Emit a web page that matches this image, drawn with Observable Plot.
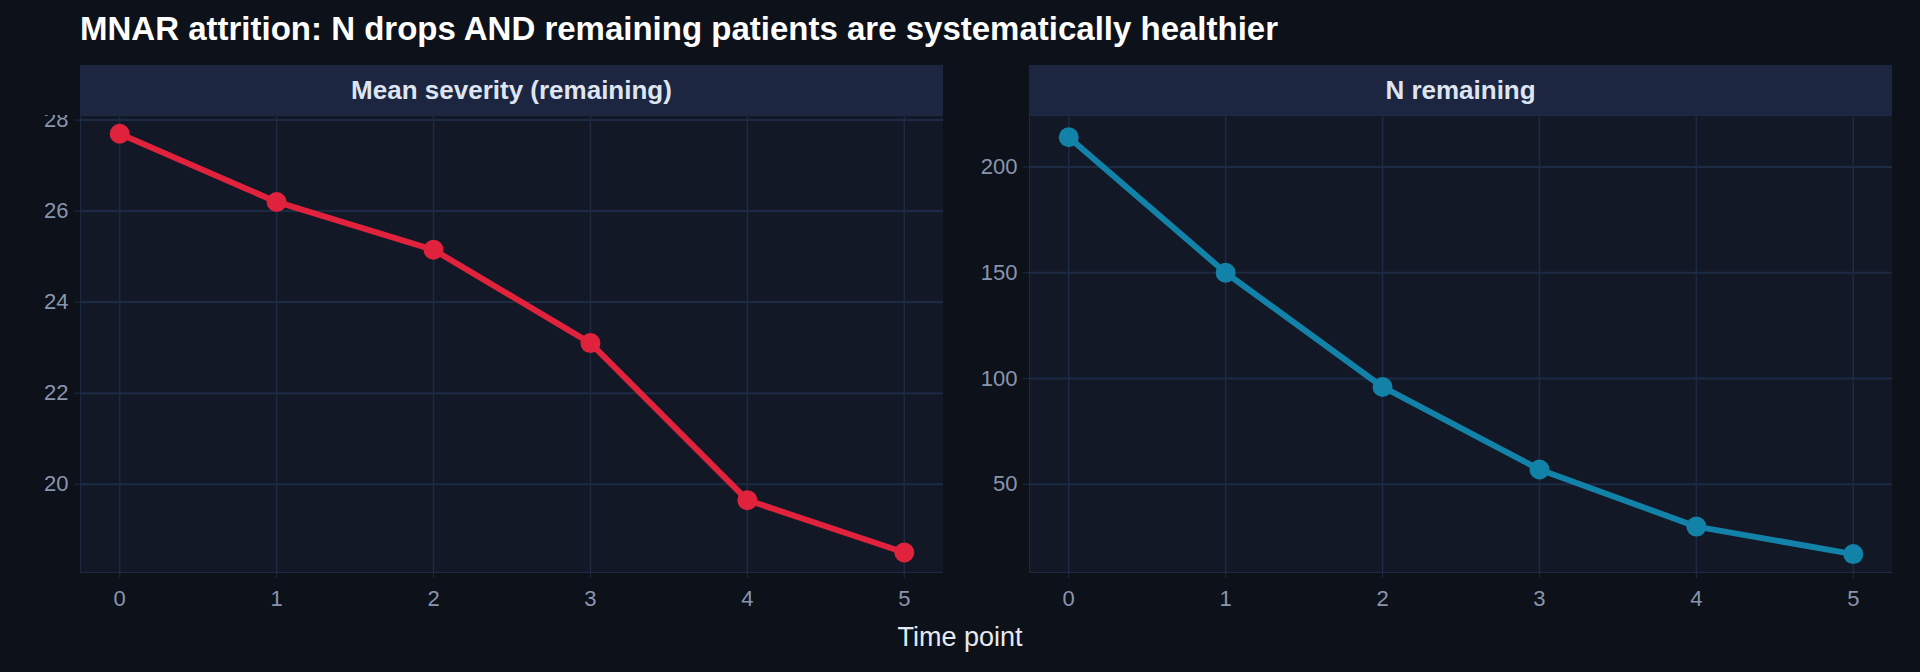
<!DOCTYPE html>
<html><head><meta charset="utf-8">
<script src="https://cdn.jsdelivr.net/npm/d3@7"></script>
<script src="https://cdn.jsdelivr.net/npm/@observablehq/plot@0.6"></script>
<style>
body{margin:0;background:#0d111a;width:1920px;height:672px;overflow:hidden;font-family:"Liberation Sans",Arial,sans-serif;}
#wrap{position:relative;width:1920px;height:672px;}
.title{position:absolute;left:80px;top:10px;color:#fff;font-weight:bold;font-size:33px;}
.strip{position:absolute;top:65px;height:50px;width:863px;background:#1c2640;color:#dfe5f0;font-weight:bold;font-size:26px;display:flex;align-items:center;justify-content:center;}
.xl{position:absolute;top:622px;width:1920px;left:0;text-align:center;color:#e6e9f0;font-size:27px;}
.p{position:absolute;top:115px;}
</style></head><body>
<div id="wrap">
<div class="title">MNAR attrition: N drops AND remaining patients are systematically healthier</div>
<div class="strip" style="left:80px">Mean severity (remaining)</div>
<div class="strip" style="left:1029px">N remaining</div>
<div class="p" id="p1" style="left:10px"></div>
<div class="p" id="p2" style="left:959px"></div>
<div class="xl">Time point</div>
</div>
<script>
const timePoints = [0, 1, 2, 3, 4, 5];
const meanSeverity = [27.7, 26.2, 25.15, 23.1, 19.65, 18.5];
const nRemaining = [214, 150, 96, 57, 30, 17];
const sevTicks = [20, 22, 24, 26, 28];
const nTicks = [50, 100, 150, 200];

function panel(vals, color, ydom, yticks) {
  const data = timePoints.map((t, i) => ({t, v: vals[i]}));
  return Plot.plot({
    width: 933, height: 515, marginLeft: 70, marginRight: 0, marginTop: 0, marginBottom: 58,
    style: {background: "transparent", color: "#8a95ad", fontFamily: "Liberation Sans, Arial, sans-serif"},
    x: {domain: [-0.25, 5.25], label: null},
    y: {domain: ydom, label: null},
    marks: [
      Plot.frame({fill: "#121826", stroke: "#1d2a44"}),
      Plot.gridX(timePoints, {stroke: "#1d2a44", strokeOpacity: 1, strokeWidth: 1.5}),
      Plot.gridY(yticks, {stroke: "#1d2a44", strokeOpacity: 1, strokeWidth: 2}),
      Plot.axisX({ticks: timePoints, stroke: "#1d2a44", tickFormat: d3.format("d"), tickSize: 6, tickPadding: 12, fill: "#8a95ad", fontSize: 22, label: null}),
      Plot.axisY({ticks: yticks, stroke: "#1d2a44", tickSize: 6, tickPadding: 6, fill: "#8a95ad", fontSize: 22, label: null}),
      Plot.line(data, {x: "t", y: "v", stroke: color, strokeWidth: 6}),
      Plot.dot(data, {x: "t", y: "v", fill: color, r: 10})
    ]
  });
}
document.getElementById("p1").appendChild(panel(meanSeverity, "#e0223c", [18.06, 28.1], sevTicks));
document.getElementById("p2").appendChild(panel(nRemaining, "#1282a8", [8.3, 224.3], nTicks));
</script>
</body></html>
